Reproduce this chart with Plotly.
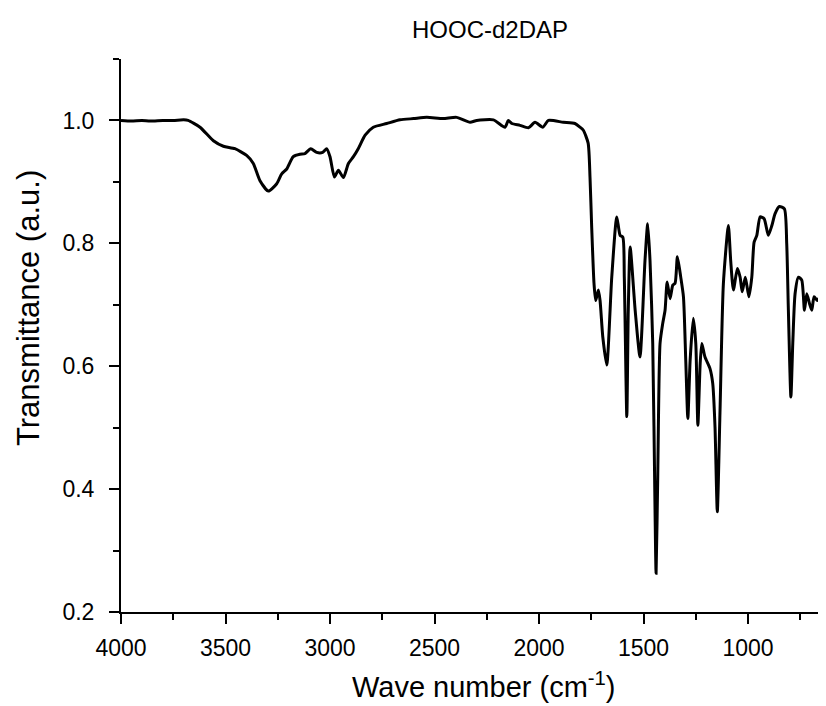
import plotly.graph_objects as go

# IR spectrum
wavenumber = [4000, 3950, 3900, 3861, 3800, 3750, 3700, 3679, 3622, 3558, 3510, 3455, 3399, 3367,
              3335, 3295, 3255, 3231, 3207, 3176, 3144, 3120, 3092, 3064, 3035, 3016, 3000,
              2979, 2960, 2936, 2912, 2888, 2865, 2832, 2793, 2729, 2665, 2600, 2537, 2459,
              2394, 2330, 2298, 2218, 2163, 2147, 2130, 2091, 2051, 2019, 1982, 1955, 1884,
              1828, 1804, 1788, 1765, 1756, 1748, 1737, 1729, 1716, 1708, 1695, 1676, 1652,
              1628, 1612, 1599, 1592, 1580, 1573, 1564, 1540, 1517, 1493, 1480, 1469, 1456,
              1445, 1440, 1432, 1421, 1408, 1397, 1387, 1373, 1360, 1349, 1338, 1322, 1309,
              1298, 1288, 1277, 1262, 1250, 1240, 1229, 1221, 1206, 1182, 1169, 1158, 1147,
              1134, 1118, 1094, 1083, 1070, 1051, 1038, 1028, 1013, 996, 982, 971, 958, 942,
              923, 903, 886, 871, 850, 826, 815, 807, 795, 786, 775, 759, 743, 730, 719, 706,
              695, 684, 668, 652, 639, 630]
transmittance = [1.000, 0.999, 1.000, 0.999, 1.000, 1.000, 1.001, 1.000, 0.989, 0.967, 0.958, 0.954, 0.943, 0.930,
                 0.902, 0.885, 0.897, 0.913, 0.921, 0.941, 0.945, 0.946, 0.954, 0.948, 0.948, 0.954, 0.941,
                 0.908, 0.919, 0.907, 0.930, 0.941, 0.954, 0.976, 0.989, 0.995, 1.001, 1.003, 1.005, 1.003,
                 1.005, 0.997, 1.000, 1.001, 0.989, 1.000, 0.995, 0.992, 0.988, 0.997, 0.989, 1.000, 0.997,
                 0.995, 0.989, 0.984, 0.963, 0.907, 0.826, 0.735, 0.707, 0.724, 0.707, 0.648, 0.602, 0.745,
                 0.843, 0.813, 0.810, 0.745, 0.518, 0.691, 0.794, 0.691, 0.615, 0.772, 0.832, 0.772, 0.637,
                 0.366, 0.263, 0.420, 0.637, 0.670, 0.691, 0.737, 0.710, 0.732, 0.735, 0.778, 0.745, 0.713,
                 0.610, 0.515, 0.610, 0.678, 0.637, 0.504, 0.604, 0.637, 0.615, 0.596, 0.572, 0.501, 0.363,
                 0.528, 0.734, 0.829, 0.772, 0.724, 0.759, 0.745, 0.721, 0.745, 0.713, 0.745, 0.802, 0.813, 0.843,
                 0.840, 0.813, 0.829, 0.848, 0.860, 0.856, 0.800, 0.691, 0.550, 0.637, 0.718, 0.745, 0.740, 0.691, 0.718, 0.702,
                 0.691, 0.713, 0.707, 0.715, 0.710, 0.675]

x_ticks = [4000, 3500, 3000, 2500, 2000, 1500, 1000]
y_ticks = [0.2, 0.4, 0.6, 0.8, 1.0]

title_text = "HOOC-d2DAP"
x_title = "Wave number (cm<sup>-1</sup>)"
y_title = "Transmittance (a.u.)"

FONT = "Liberation Sans, Arial, sans-serif"
W, H = 818, 698  # page body adds an 8px offset

fig = go.Figure()
fig.add_trace(go.Scatter(x=wavenumber, y=transmittance, mode="lines",
                         line=dict(color="black", width=3, shape="spline", smoothing=0.6),
                         hoverinfo="skip", showlegend=False))

fig.update_layout(
    width=W, height=H,
    margin=dict(l=113, r=0, t=51, b=94),
    paper_bgcolor="white", plot_bgcolor="white",
    font=dict(family=FONT, color="black"),
    title=dict(text=title_text, x=(490 - 8) / W, y=1 - (30 - 8) / H, xref="container",
               yref="container", xanchor="center", yanchor="middle",
               font=dict(size=24, family=FONT, color="black")),
    showlegend=False,
)

fig.update_xaxes(
    range=[4000, 627], tickvals=x_ticks, ticktext=[str(v) for v in x_ticks],
    showline=True, linecolor="black", linewidth=2, mirror=False,
    ticks="outside", ticklen=10, tickwidth=2, tickcolor="black",
    minor=dict(dtick=250, tick0=0, ticks="outside", ticklen=6, tickwidth=2, tickcolor="black"),
    showgrid=False, zeroline=False,
    tickfont=dict(size=23, family=FONT, color="black"),
    ticklabelstandoff=4,
)
fig.update_yaxes(
    range=[0.2, 1.1], tickvals=y_ticks, ticktext=[f"{v:.1f}" for v in y_ticks],
    showline=True, linecolor="black", linewidth=2, mirror=False,
    ticks="outside", ticklen=10, tickwidth=2, tickcolor="black",
    minor=dict(dtick=0.1, tick0=0.2, ticks="outside", ticklen=6, tickwidth=2, tickcolor="black"),
    showgrid=False, zeroline=False,
    tickfont=dict(size=23, family=FONT, color="black"),
    ticklabelstandoff=10,
)

fig.add_annotation(text=x_title, xref="paper", yref="paper",
                   x=(484 - 121) / 705, y=(612 - 685) / 553, xanchor="center", yanchor="middle",
                   showarrow=False, font=dict(size=29, family=FONT, color="black"))
fig.add_annotation(text=y_title, xref="paper", yref="paper",
                   x=(28 - 121) / 705, y=(612 - 308) / 553, xanchor="center", yanchor="middle",
                   textangle=-90, showarrow=False, font=dict(size=31, family=FONT, color="black"))

fig.write_html("out.html")
